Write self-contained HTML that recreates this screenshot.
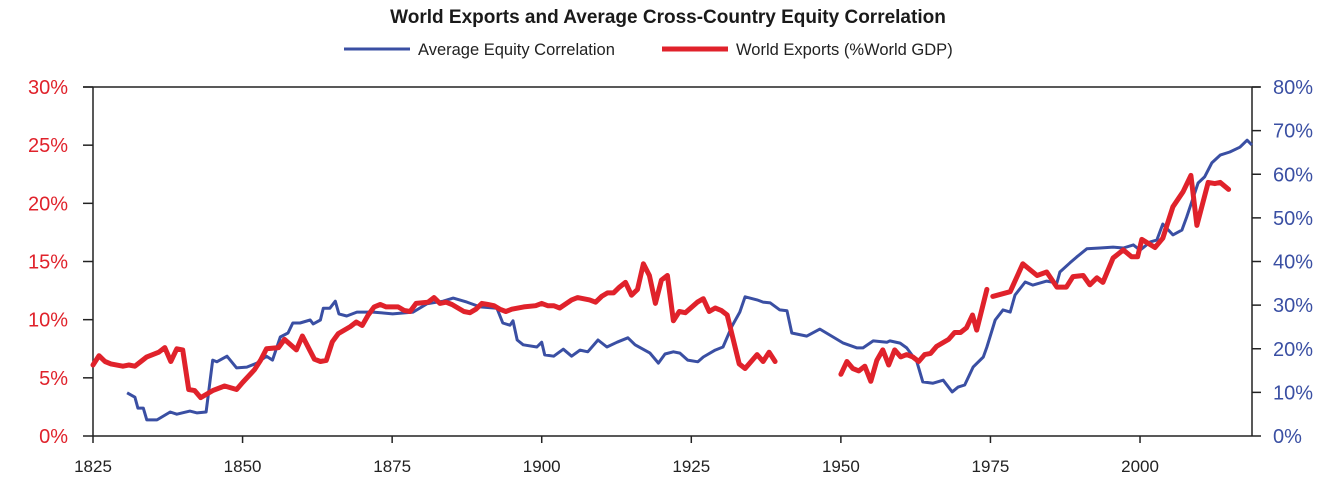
<!DOCTYPE html>
<html><head><meta charset="utf-8">
<style>
html,body{margin:0;padding:0;background:#fff;}
svg{display:block;font-family:"Liberation Sans",sans-serif;}
</style></head>
<body>
<svg id="chart" width="1341" height="488" viewBox="0 0 1341 488">
  <text x="668" y="23" text-anchor="middle" font-size="19" font-weight="bold" fill="#1a1a1a">World Exports and Average Cross-Country Equity Correlation</text>
  <g>
    <line x1="344" y1="49" x2="410" y2="49" stroke="#3a4fa3" stroke-width="3"/>
    <text x="418" y="55" font-size="16.5" fill="#222">Average Equity Correlation</text>
    <line x1="662" y1="49" x2="728" y2="49" stroke="#e0222b" stroke-width="5"/>
    <text x="736" y="55" font-size="16.5" fill="#222">World Exports (%World GDP)</text>
  </g>
  <g id="axes"></g>
  <g id="series"></g>
</svg>
<script>
const xTicks=[1825,1850,1875,1900,1925,1950,1975,2000];
const leftTicks=[0,5,10,15,20,25,30];
const rightTicks=[0,10,20,30,40,50,60,70,80];
const exportYears=[1825,1826,1827,1828,1830,1831,1832,1833,1834,1836,1837,1838,1839,1840,1841,1842,1843,1845,1847,1849,1850,1852,1853,1854,1856,1857,1859,1860,1862,1863,1864,1865,1866,1868,1869,1870,1871,1872,1873,1874,1876,1877,1878,1879,1881,1882,1883,1884,1885,1887,1888,1889,1890,1891,1892,1893,1894,1895,1897,1899,1900,1901,1902,1903,1905,1906,1908,1909,1910,1911,1912,1913,1914,1915,1916,1917,1918,1919,1920,1921,1922,1923,1924,1926,1927,1928,1929,1930,1931,1932,1933,1934,1936,1937,1938,1939,1945,1950,1951,1952,1953,1954,1955,1956,1957,1958,1959,1960,1961,1962,1963,1964,1965,1966,1968,1969,1970,1971,1972,1972.7,1974.4,1974.9,1975.4,1978.3,1980.4,1982.8,1984.4,1986.1,1987.7,1988.8,1990.5,1991.6,1992.8,1993.8,1995.5,1997.2,1998.6,1999.6,2000.3,2002.5,2003.8,2005.5,2007.2,2008.5,2009.5,2011.4,2012.5,2013.4,2014.8];
const exportValues=[6.1,6.9,6.4,6.2,6.0,6.1,6.0,6.4,6.8,7.2,7.6,6.4,7.5,7.4,4.0,3.9,3.3,3.9,4.3,4.0,4.6,5.7,6.5,7.5,7.6,8.3,7.4,8.6,6.6,6.4,6.5,8.1,8.8,9.4,9.8,9.5,10.4,11.1,11.3,11.1,11.1,10.8,10.7,11.4,11.5,11.9,11.4,11.5,11.3,10.7,10.6,10.9,11.4,11.3,11.2,10.9,10.7,10.9,11.1,11.2,11.4,11.2,11.2,11.0,11.7,11.9,11.7,11.5,12.0,12.3,12.3,12.8,13.2,12.1,12.6,14.8,13.8,11.4,13.4,13.8,9.9,10.7,10.6,11.5,11.8,10.7,11.0,10.8,10.4,8.3,6.2,5.8,7.0,6.4,7.2,6.4,null,5.3,6.4,5.8,5.6,6.0,4.7,6.5,7.4,6.1,7.4,6.8,7.0,6.8,6.4,7.0,7.1,7.7,8.3,8.9,8.9,9.3,10.4,9.1,12.6,null,12.0,12.4,14.8,13.8,14.1,12.8,12.8,13.7,13.8,13.0,13.6,13.2,15.3,16.0,15.4,15.4,16.9,16.2,17.0,19.7,21.0,22.4,18.1,21.8,21.7,21.8,21.2];
const corrYears=[1830.7,1832,1832.5,1833.4,1834,1835.7,1837.9,1839,1841.2,1842.4,1843.9,1845,1845.7,1847.4,1849,1850.7,1852.4,1854,1855,1856.3,1857.6,1858.4,1859.6,1861.3,1861.8,1863,1863.5,1864.6,1865.5,1866.1,1867.4,1869.1,1871.8,1873.5,1875.1,1878.5,1880.8,1883.5,1885.2,1887.5,1889.7,1892.5,1893.5,1894.7,1895.2,1895.9,1896.9,1899.2,1900,1900.5,1902,1903.6,1905,1906.4,1907.7,1909.4,1910.9,1912.6,1914.4,1915.6,1918.1,1919.5,1920.6,1922,1923.1,1924.4,1926.1,1927,1929,1930.3,1931.8,1933.1,1934,1936,1937,1938.2,1939.8,1941,1941.8,1944.3,1946.5,1948.7,1950.4,1952.7,1953.7,1955.4,1957.7,1958.2,1959.9,1961,1962.7,1963.7,1965.4,1967.1,1968.6,1969.6,1970.7,1972.1,1973.8,1974.4,1975.8,1977.1,1978.3,1979.1,1980.8,1982.1,1984.4,1986.1,1986.6,1988.3,1989.4,1991.1,1993.3,1995.5,1997.2,1998.9,2000,2001.7,2002.8,2003.8,2005.5,2007,2007.8,2009.7,2010.8,2012,2013.4,2015,2016.7,2017.9,2018.7];
const corrValues=[9.9,8.9,6.4,6.4,3.7,3.7,5.5,5.0,5.7,5.3,5.5,17.4,17.0,18.3,15.6,15.8,16.7,18.3,17.4,22.7,23.6,25.9,25.9,26.6,25.7,26.6,29.3,29.3,30.9,28.0,27.5,28.4,28.4,28.2,28.0,28.4,30.3,30.9,31.6,30.7,29.6,29.3,25.9,25.4,26.4,22.0,20.9,20.4,21.5,18.6,18.3,19.9,18.3,19.7,19.3,22.0,20.4,21.5,22.5,20.9,19.0,16.7,18.8,19.3,19.0,17.4,17.0,18.1,19.7,20.4,25.2,28.4,31.9,31.2,30.7,30.5,28.9,28.7,23.6,22.9,24.5,22.7,21.3,20.2,20.2,21.8,21.5,21.8,21.3,20.2,17.0,12.4,12.1,12.8,10.1,11.2,11.7,15.8,18.1,20.4,26.6,28.9,28.4,32.3,35.3,34.6,35.5,35.1,37.6,39.7,41.0,42.9,43.1,43.3,43.1,43.8,42.6,44.5,44.9,48.6,46.1,47.2,50.2,58.0,59.4,62.6,64.4,65.1,66.2,67.8,66.7];

const X0=93,X1=1252,Y0=436,Y1=87;
function xs(yr){return X0+(yr-1825)*(1254-X0)/(2019.05-1825);}
function yl(v){return Y0-v*(Y0-Y1)/30;}
function yr(v){return Y0-v*(Y0-Y1)/80;}
const NS="http://www.w3.org/2000/svg";
function mk(tag,attrs,parent){const e=document.createElementNS(NS,tag);for(const k in attrs)e.setAttribute(k,attrs[k]);parent.appendChild(e);return e;}
const axes=document.getElementById('axes');
const ser=document.getElementById('series');

let el=mk('line',{x1:X0,y1:Y1,x2:X0,y2:Y0,stroke:'#222','stroke-width':1.5},axes);


el=mk('line',{x1:X1,y1:Y1,x2:X1,y2:Y0,stroke:'#222','stroke-width':1.5},axes);


el=mk('line',{x1:X0,y1:Y0,x2:X1,y2:Y0,stroke:'#222','stroke-width':1.5},axes);


el=mk('line',{x1:X0-10,y1:Y1,x2:X1+8,y2:Y1,stroke:'#222','stroke-width':1.5},axes);



xTicks.forEach(t=>{
  const x=xs(t);
  let l=mk('line',{x1:x,y1:Y0,x2:x,y2:Y0+7,stroke:'#222','stroke-width':1.5},axes);
  
  
  let tx=mk('text',{x:x,y:472,'text-anchor':'middle','font-size':17,fill:'#222'},axes);
  tx.textContent=t;
  
  
});
leftTicks.forEach(t=>{
  const y=yl(t);
  let l=mk('line',{x1:X0-10,y1:y,x2:X0,y2:y,stroke:'#222','stroke-width':1.5},axes);
  
  
  let tx=mk('text',{x:68,y:y+7,'text-anchor':'end','font-size':20,fill:'#e0222b'},axes);
  tx.textContent=t+'%';
  
  
});
rightTicks.forEach(t=>{
  const y=yr(t);
  let l=mk('line',{x1:X1,y1:y,x2:X1+9,y2:y,stroke:'#222','stroke-width':1.5},axes);
  
  
  let tx=mk('text',{x:1273,y:y+7,'text-anchor':'start','font-size':20,fill:'#3a4fa3'},axes);
  tx.textContent=t+'%';
  
  
});

function pathFrom(years,vals,yf){
  let d='',pen=false;
  for(let i=0;i<years.length;i++){
    const v=vals[i];
    if(v===null||v===undefined){pen=false;continue;}
    d+=(pen?'L':'M')+xs(years[i]).toFixed(1)+','+yf(v).toFixed(1);
    pen=true;
  }
  return d;
}
let p=mk('path',{d:pathFrom(corrYears,corrValues,yr),fill:'none',stroke:'#3a4fa3','stroke-width':3,'stroke-linejoin':'round'},ser);


p=mk('path',{d:pathFrom(exportYears,exportValues,yl),fill:'none',stroke:'#e0222b','stroke-width':5,'stroke-linejoin':'round','stroke-linecap':'round'},ser);


</script>
</body></html>
